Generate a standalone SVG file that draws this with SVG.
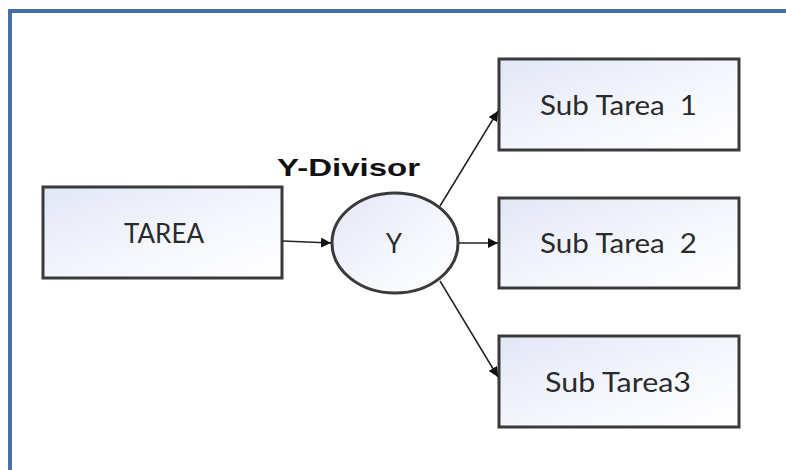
<svg xmlns="http://www.w3.org/2000/svg" width="786" height="470" viewBox="0 0 786 470">
  <defs>
    <linearGradient id="fillGrad" x1="0" y1="0" x2="1" y2="1">
      <stop offset="0" stop-color="#e2e7f6"/>
      <stop offset="0.6" stop-color="#f6f8fe"/>
      <stop offset="1" stop-color="#ffffff"/>
    </linearGradient>
    <marker id="arrow" viewBox="0 0 10 10" refX="10" refY="5" markerWidth="10" markerHeight="10" markerUnits="userSpaceOnUse" orient="auto">
      <path d="M0,0 L10,5 L0,10 z" fill="#111"/>
    </marker>
  </defs>
  <style>
    .box { fill: url(#fillGrad); stroke: #3a3a3a; stroke-width: 3; }
    .lbl { font-family: Lato, "Open Sans", "DejaVu Sans", sans-serif; font-size: 27px; fill: #2a2a2a; white-space: pre; }
    .conn { stroke: #222; stroke-width: 1.5; fill: none; marker-end: url(#arrow); }
    .title { font-family: "Liberation Sans", Arial, sans-serif; font-weight: bold; font-size: 24px; fill: #111; }
    .frame { stroke: #4a6da6; stroke-width: 4; fill: none; }
  </style>
  <rect width="786" height="470" fill="#ffffff"/>
  <path class="frame" d="M10,470 L10,11 L786,11"/>

  <g id="tarea">
    <rect class="box" x="43" y="187" width="239" height="91"/>
    <text class="lbl" x="124" y="243" textLength="80" lengthAdjust="spacingAndGlyphs">TAREA</text>
  </g>

  <g id="y-divisor">
    <ellipse class="box" cx="395" cy="243" rx="63" ry="50"/>
    <text class="lbl" x="386" y="253" textLength="16" lengthAdjust="spacingAndGlyphs">Y</text>
    <text class="title" x="277" y="176" textLength="143" lengthAdjust="spacingAndGlyphs">Y-Divisor</text>
  </g>

  <g id="sub1">
    <rect class="box" x="499" y="59" width="240" height="91"/>
    <text class="lbl" x="540" y="115" textLength="157" lengthAdjust="spacingAndGlyphs" xml:space="preserve">Sub Tarea  1</text>
  </g>

  <g id="sub2">
    <rect class="box" x="499" y="198" width="240" height="90"/>
    <text class="lbl" x="540" y="253" textLength="157" lengthAdjust="spacingAndGlyphs" xml:space="preserve">Sub Tarea  2</text>
  </g>

  <g id="sub3">
    <rect class="box" x="499" y="336" width="240" height="91"/>
    <text class="lbl" x="545" y="392" textLength="146" lengthAdjust="spacingAndGlyphs">Sub Tarea3</text>
  </g>

  <g id="connectors">
    <line class="conn" x1="283" y1="241" x2="331" y2="243"/>
    <line class="conn" x1="459" y1="243" x2="498" y2="243"/>
    <line class="conn" x1="440" y1="206" x2="498" y2="111"/>
    <line class="conn" x1="440" y1="281" x2="498" y2="377"/>
  </g>
</svg>
